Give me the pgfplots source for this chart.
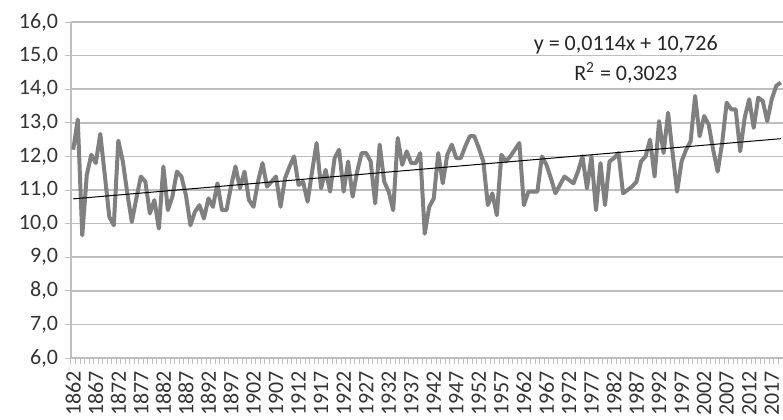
\documentclass[border=0pt]{standalone}
\usepackage{pgfplots}
\pgfplotsset{compat=1.18}
\usepackage{pgfplotstable}
\usepackage{fontspec}
\setmainfont{Carlito}

\definecolor{serie}{RGB}{128,128,128}
\definecolor{rejilla}{RGB}{190,190,190}

\pgfplotstableread{
year temp
1862 12.2
1863 13.1
1864 9.65
1865 11.45
1866 12.05
1867 11.8
1868 12.67
1869 11.45
1870 10.2
1871 9.95
1872 12.47
1873 11.85
1874 10.9
1875 10.05
1876 10.75
1877 11.4
1878 11.25
1879 10.3
1880 10.7
1881 9.85
1882 11.7
1883 10.4
1884 10.8
1885 11.55
1886 11.4
1887 10.85
1888 9.95
1889 10.35
1890 10.55
1891 10.15
1892 10.75
1893 10.5
1894 11.2
1895 10.4
1896 10.4
1897 11.1
1898 11.7
1899 11.05
1900 11.55
1901 10.7
1902 10.5
1903 11.25
1904 11.8
1905 11.1
1906 11.25
1907 11.4
1908 10.5
1909 11.35
1910 11.7
1911 12.0
1912 11.15
1913 11.25
1914 10.65
1915 11.55
1916 12.4
1917 11.05
1918 11.6
1919 10.95
1920 11.95
1921 12.2
1922 10.95
1923 11.85
1924 10.8
1925 11.55
1926 12.1
1927 12.1
1928 11.85
1929 10.6
1930 12.35
1931 11.25
1932 10.95
1933 10.4
1934 12.55
1935 11.75
1936 12.15
1937 11.8
1938 11.8
1939 12.1
1940 9.7
1941 10.5
1942 10.75
1943 12.1
1944 11.2
1945 12.05
1946 12.35
1947 11.95
1948 11.95
1949 12.3
1950 12.6
1951 12.6
1952 12.25
1953 11.85
1954 10.55
1955 10.9
1956 10.25
1957 12.05
1958 11.85
1959 12.0
1960 12.2
1961 12.4
1962 10.55
1963 10.95
1964 10.95
1965 10.95
1966 12.0
1967 11.75
1968 11.35
1969 10.9
1970 11.15
1971 11.4
1972 11.3
1973 11.2
1974 11.55
1975 12.0
1976 11.05
1977 12.0
1978 10.4
1979 11.8
1980 10.55
1981 11.85
1982 11.95
1983 12.1
1984 10.9
1985 11.0
1986 11.1
1987 11.25
1988 11.85
1989 12.0
1990 12.5
1991 11.4
1992 13.05
1993 12.1
1994 13.3
1995 12.1
1996 10.95
1997 11.85
1998 12.2
1999 12.45
2000 13.8
2001 12.6
2002 13.2
2003 12.95
2004 12.2
2005 11.55
2006 12.4
2007 13.6
2008 13.4
2009 13.4
2010 12.15
2011 13.15
2012 13.7
2013 12.85
2014 13.75
2015 13.65
2016 13.05
2017 13.7
2018 14.1
2019 14.2
}\temps

\begin{document}
\begin{tikzpicture}
\begin{axis}[
    name=ax,
    scale only axis,
    width=356pt, height=168pt,
    xmin=1861.5, xmax=2019.5,
    ymin=6, ymax=16,
    axis lines=left,
    axis line style={-, rejilla, line width=0.8pt},
    ytick={6,7,...,16},
    % ticks at the category boundaries, a label every fifth year
    xtick={1861.5,1862.5,...,2019.5},
    xticklabel={\pgfmathtruncatemacro\yr{round(\tick+0.5)}\pgfmathtruncatemacro\m{mod(\yr-1862,5)}\ifnum\m=0 \yr\fi},
    major tick length=3pt,
    tick style={draw=rejilla, line width=0.5pt},
    tick align=outside,
    ymajorgrids,
    grid style={rejilla, line width=0.8pt},
    /pgf/number format/assume math mode=true,
    tick label style={font=\fontsize{11}{13}\selectfont, black!80},
    yticklabel style={/pgf/number format/.cd, fixed, fixed zerofill, precision=1, use comma},
    xticklabel style={xshift=1.13pt, rotate=90, anchor=east},
    clip=false,
]
\addplot[serie, line width=2pt, line join=round] table[x=year, y=temp] {\temps};
\addplot[black, line width=0.5pt] coordinates {(1862,10.737) (2019,12.527)};
\node[font=\fontsize{11}{13}\selectfont, black!85] at (axis cs:1984.6,15.32) {y = 0,0114x + 10,726};
\node[font=\fontsize{11}{13}\selectfont, black!85] at (axis cs:1984.6,14.48) {R\textsuperscript{2} = 0,3023};
\end{axis}
\pgfresetboundingbox
\path ([xshift=-35.5pt,yshift=-30.5pt]ax.south west) rectangle ([yshift=11pt]ax.north east);
\end{tikzpicture}
\end{document}
